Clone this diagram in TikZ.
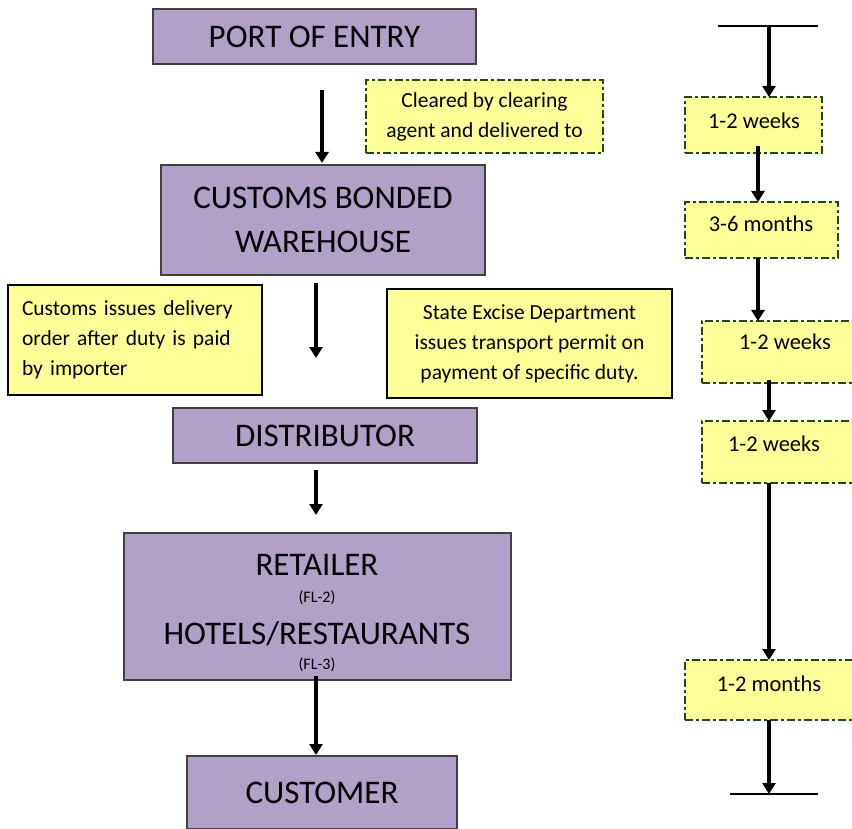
\documentclass[tikz,border=0pt]{standalone}
\usepackage{fontspec}
\setmainfont{Carlito}
\usetikzlibrary{arrows.meta}
\definecolor{boxpurple}{HTML}{B1A0C7}
\definecolor{noteyellow}{HTML}{FFFF99}
\definecolor{dashgreen}{HTML}{1E4A1A}
\begin{document}
\begin{tikzpicture}[x=1pt,y=-1pt,
  mainbox/.style={draw=black!75, line width=1.4pt, fill=boxpurple, inner sep=0pt, outer sep=0pt, align=center, font=\fontsize{33}{44}\selectfont},
  bigtext/.style={inner sep=0pt, font=\fontsize{33}{36}\selectfont},
  smalltext/.style={inner sep=0pt, font=\fontsize{16}{18}\selectfont},
  notebox/.style={draw=black, line width=1.4pt, fill=noteyellow, inner sep=0pt, outer sep=0pt, font=\fontsize{21.5}{30}\selectfont},
  timebox/.style={draw=dashgreen, line width=2pt, fill=noteyellow, dash pattern=on 8pt off 3pt on 3pt off 3pt, inner sep=0pt, outer sep=0pt},
  timetext/.style={inner sep=0pt, font=\fontsize{22.5}{24}\selectfont},
  flow/.style={line width=3.4pt, -{Triangle[width=13pt,length=11pt]}},
  tick/.style={line width=1.4pt}
]
\useasboundingbox (0,0) rectangle (852,829);

% main flow boxes
\node[mainbox, minimum width=323pt, minimum height=55pt] (port) at (314.5,36.5) {PORT OF ENTRY};
\node[mainbox, minimum width=324pt, minimum height=110pt] (cbw) at (323,220) {CUSTOMS BONDED\\WAREHOUSE};
\node[mainbox, minimum width=304pt, minimum height=55pt] (dist) at (325,435.5) {DISTRIBUTOR};
\node[mainbox, minimum width=387pt, minimum height=147pt] (ret) at (317.5,606.5) {};
\node[bigtext] (t1) at (317,565) {RETAILER};
\node[smalltext] (t2) at (317,598) {(FL-2)};
\node[bigtext] (t3) at (317,634) {HOTELS/RESTAURANTS};
\node[smalltext] (t4) at (317,665) {(FL-3)};
\node[mainbox, minimum width=270pt, minimum height=73pt] (cust) at (322,792.5) {CUSTOMER};

% notes
\node[notebox, timebox, minimum width=237pt, minimum height=73pt, align=center] (clear) at (484.5,116.5) {Cleared by clearing\\agent and delivered to};
\node[notebox, minimum width=254pt, minimum height=110pt, align=left, text width=226pt, inner xsep=14pt] (cust issue) at (135,340) {Customs issues delivery\\order after duty is paid\\by importer};
\node[notebox, minimum width=285pt, minimum height=109pt, align=center] (excise) at (529.5,343.5) {State Excise Department\\issues transport permit on\\payment of specific duty.};

% left arrows
\coordinate (ca) at (322,0);
\coordinate (cb) at (316,0);
\draw[flow, shorten <=26pt, shorten >=2pt] (port.south -| ca) -- (cbw.north -| ca);
\draw[flow, shorten <=8pt, shorten >=50pt] (cbw.south -| cb) -- (dist.north -| cb);
\draw[flow, shorten <=7pt, shorten >=18pt] (dist.south -| cb) -- (ret.north -| cb);
\draw[flow, shorten <=-4pt, shorten >=1pt] (ret.south -| cb) -- (cust.north -| cb);

% time line
\coordinate (topl) at (718,26);
\coordinate (topr) at (818,26);
\coordinate (topm) at (769,26);
\coordinate (botl) at (730,794);
\coordinate (botr) at (818,794);
\coordinate (botm) at (769,794);
\draw[tick] (topl) -- (topr);
\draw[tick] (botl) -- (botr);

\node[timebox, minimum width=137pt, minimum height=56pt] (b1) at (753.5,125) {};
\node[timetext] at (754,121) {1-2 weeks};
\node[timebox, minimum width=153pt, minimum height=56pt] (b2) at (761.5,230) {};
\node[timetext] at (761,224) {3-6 months};
\node[timebox, minimum width=170pt, minimum height=62pt] (b3) at (787,352) {};
\node[timetext] at (785,342) {1-2 weeks};
\node[timebox, minimum width=170pt, minimum height=62pt] (b4) at (787,452) {};
\node[timetext] at (774,444) {1-2 weeks};
\node[timebox, minimum width=190pt, minimum height=60pt] (b5) at (780,690) {};
\node[timetext] at (769,684) {1-2 months};

\coordinate (cc) at (769,0);
\coordinate (cd) at (758,0);
\draw[flow] (topm) -- (b1.north -| cc);
\draw[flow, shorten <=-7pt] (b1.south -| cd) -- (b2.north -| cd);
\draw[flow] (b2.south -| cd) -- (b3.north -| cd);
\draw[flow, shorten <=-3pt] (b3.south -| cc) -- (b4.north -| cc);
\draw[flow] (b4.south -| cc) -- (b5.north -| cc);
\draw[flow] (b5.south -| cc) -- (botm);
\end{tikzpicture}
\end{document}
